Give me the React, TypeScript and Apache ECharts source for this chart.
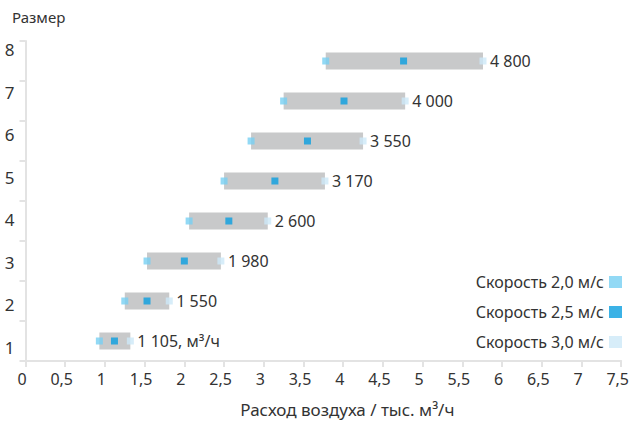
import React, { useEffect, useRef } from "react";
import * as echarts from "echarts";

const sizes = ["1", "2", "3", "4", "5", "6", "7", "8"];
const speed20 = [0.93, 1.25, 1.53, 2.06, 2.5, 2.84, 3.25, 3.78];
const speed25 = [1.12, 1.53, 2.0, 2.56, 3.14, 3.55, 4.01, 4.76];
const speed30 = [1.32, 1.81, 2.46, 3.05, 3.77, 4.25, 4.78, 5.76];
const flowLabels = ["1 105, м³/ч", "1 550", "1 980", "2 600", "3 170", "3 550", "4 000", "4 800"];
const seriesNames = ["Скорость 2,0 м/с", "Скорость 2,5 м/с", "Скорость 3,0 м/с"];
const xTicks = { min: 0, max: 7.5, interval: 0.5 };
// label axis range (Excel places size labels on its own scale)
const sizeLabelRange = { min: 0.671, max: 8.212 };

const FONT = "'Noto Sans', sans-serif";
const TXT = "#333333";
const AXIS = "#e3e3e3";
const colors = ["#77cff3", "#0a9fe0", "#cde9f8"];

export default function App() {
  const ref = useRef<HTMLDivElement>(null);
  useEffect(() => {
    if (!ref.current) return;
    const chart = echarts.init(ref.current, null, { renderer: "svg" });
    const scatter = (name: string, vals: number[], color: string) => ({
      name,
      type: "scatter",
      symbol: "rect",
      symbolSize: 7,
      itemStyle: { color },
      z: 5,
      data: vals.map((v, i) => [v, sizes[i]]),
    });
    chart.setOption({
      animation: false,
      textStyle: { fontFamily: FONT },
      title: {
        text: "Размер",
        left: 7,
        top: 4,
        textStyle: { fontSize: 15, fontWeight: "normal", color: TXT, fontFamily: FONT },
      },
      legend: {
        orient: "vertical",
        right: 5,
        top: 269,
        align: "right",
        itemWidth: 13,
        itemHeight: 12,
        itemGap: 14,
        icon: "rect",
        data: seriesNames,
        textStyle: { fontSize: 16, color: TXT, fontFamily: FONT },
      },
      grid: { left: 25.5, right: 4, top: 41, bottom: 61, containLabel: false },
      xAxis: {
        type: "value",
        min: xTicks.min,
        max: xTicks.max,
        interval: xTicks.interval,
        splitLine: { show: false },
        axisLine: { show: true, lineStyle: { color: AXIS, width: 2 } },
        axisTick: { show: true, length: 6, lineStyle: { color: AXIS, width: 2 } },
        axisLabel: {
          color: TXT,
          fontSize: 16,
          margin: 10,
          padding: [0, 7, 0, 0],
          showMaxLabel: true,
          formatter: (v: number) => String(v).replace(".", ","),
        },
        name: "Расход воздуха / тыс. м³/ч",
        nameLocation: "middle",
        nameGap: 40,
        nameTextStyle: { fontSize: 17, color: TXT, padding: [0, 0, 0, 48] },
      },
      yAxis: [
        {
          type: "category",
          data: sizes,
          axisLine: { show: true, lineStyle: { color: AXIS, width: 2 } },
          axisTick: { show: true, length: 6, lineStyle: { color: AXIS, width: 2 } },
          axisLabel: { show: false },
          splitLine: { show: false },
        },
        {
          type: "value",
          position: "left",
          min: sizeLabelRange.min,
          max: sizeLabelRange.max,
          minInterval: 1,
          maxInterval: 1,
          axisLine: { show: false },
          axisTick: { show: false },
          splitLine: { show: false },
          axisLabel: {
            color: TXT,
            fontSize: 17,
            margin: 11,
            showMinLabel: false,
            showMaxLabel: false,
            formatter: (v: number) => (Math.abs(v - Math.round(v)) < 1e-6 ? String(Math.round(v)) : ""),
          },
        },
      ],
      series: [
        {
          name: "base",
          type: "bar",
          stack: "r",
          barWidth: 17,
          itemStyle: { color: "transparent" },
          silent: true,
          data: speed20,
        },
        {
          name: "range",
          type: "bar",
          stack: "r",
          barWidth: 17,
          itemStyle: { color: "#c8c9ca" },
          label: {
            show: true,
            position: "right",
            distance: 7,
            color: TXT,
            fontSize: 16,
            fontFamily: FONT,
            formatter: (p: any) => flowLabels[p.dataIndex],
          },
          data: speed30.map((v, i) => +(v - speed20[i]).toFixed(3)),
        },
        scatter(seriesNames[0], speed20, colors[0]),
        scatter(seriesNames[1], speed25, colors[1]),
        scatter(seriesNames[2], speed30, colors[2]),
      ],
    });
    return () => chart.dispose();
  }, []);
  return (
    <div
      ref={ref}
      style={{ position: "fixed", left: 0, top: 0, width: 632, height: 423, background: "#fff" }}
    />
  );
}
